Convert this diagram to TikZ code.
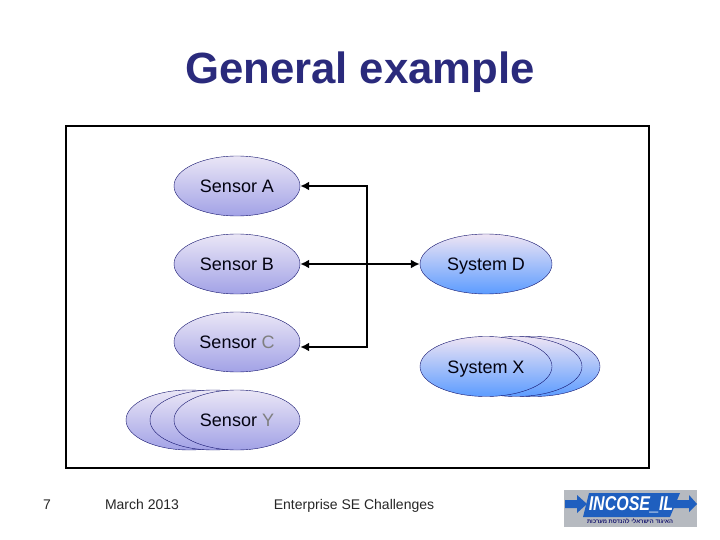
\documentclass[tikz,border=0pt]{standalone}
\usepackage{fontspec}
\setmainfont{Liberation Sans}
\newfontfamily\hebrewfont[Script=Hebrew]{Liberation Sans}
\TeXXeTstate=1
\usetikzlibrary{arrows.meta}
\usetikzlibrary{shapes.geometric}
\definecolor{C0}{HTML}{2A2A7C}
\definecolor{C1}{HTML}{14146E}
\definecolor{C2}{HTML}{EAE6F6}
\definecolor{C3}{HTML}{A2A2E6}
\definecolor{C4}{HTML}{EEE4F4}
\definecolor{C5}{HTML}{5C9CFF}
\definecolor{C6}{HTML}{B6BAC0}
\definecolor{C7}{HTML}{1F5FBF}
\definecolor{C8}{HTML}{7F7F7F}
\tikzset{
  sensor/.style={ellipse,draw=C1,thin,minimum width=126pt,minimum height=60pt,inner sep=0pt,
    top color=C2,bottom color=C3,font=\fontsize{18}{20}\selectfont,text=black!85!C1,
    text height=13pt,text depth=0pt},
  system/.style={sensor,minimum width=132pt,top color=C4,bottom color=C5},
  footer/.style={anchor=base,font=\fontsize{14}{16}\selectfont,text=black!85},
  wire/.style={-{Latex[length=9pt,width=9pt]},line width=1.8pt},
  bigwire/.style={wire,line width=2.2pt},
}
\begin{document}
\begin{tikzpicture}[x=1pt,y=-1pt]
\useasboundingbox (0,0) rectangle (720,540);
\node[anchor=base,font=\bfseries\fontsize{43.7}{50}\selectfont,text=C0] (title) at (360,84) {General example};
\draw[line width=2.6pt] (66,126) rectangle (649,468);
% sensors
\node[sensor] (sensorA) at (237,186) {Sensor A};
\node[sensor] (sensorB) at (237,264) {Sensor B};
\node[sensor] (sensorC) at (237,342) {Sensor \textcolor{C8}{C}};
\node[sensor] (sensorY3) at (189,420) {};
\node[sensor] (sensorY2) at (213,420) {};
\node[sensor] (sensorY) at (237,420) {Sensor \textcolor{C8}{Y}};
% systems
\node[system] (systemD) at (486,264) {System D};
\node[system] (systemX3) at (534,366.5) {};
\node[system] (systemX2) at (516,366.5) {};
\node[system] (systemX) at (486,366.5) {System X};
% connectors
\coordinate (joint) at (367,264);
\coordinate (jointA) at (367,186);
\coordinate (jointC) at (367,347);
\draw[wire] (joint) -- (sensorB.east);
\draw[wire] (joint) -- (systemD.west);
\draw[bigwire] (jointA) -- (sensorA.east);
\draw[bigwire] (jointC) -- (sensorC.east|-jointC);
\draw[line width=2.6pt,line cap=rect] (jointA) -- (jointC);
% footer
\node[footer] (page) at (47,509) {7};
\node[footer] (date) at (142,509) {March 2013};
\node[footer] (topic) at (354,509) {Enterprise SE Challenges};
% logo
\fill[C6] (564,490) rectangle (697,527);
\fill[C7] (565,500) -- (577,500) -- (577,495) -- (587,504) -- (577,513) -- (577,508) -- (565,508) -- cycle;
\fill[C7] (670,500) -- (689,500) -- (689,495) -- (697,504) -- (689,512) -- (689,508) -- (670,508) -- cycle;
\fill[C7] (589,493) -- (680,493) -- (670,517) -- (583,517) -- cycle;
\node[font=\bfseries\itshape\fontsize{20}{20}\selectfont,text=white,xscale=.8,transform shape] (logo) at (631,505) {INCOSE\_IL};
\node[font=\hebrewfont\bfseries\fontsize{5.8}{7}\selectfont,text=C1] (logotext) at (630,521.5) {\beginR האיגוד הישראלי להנדסת מערכות\endR};
\end{tikzpicture}
\end{document}
